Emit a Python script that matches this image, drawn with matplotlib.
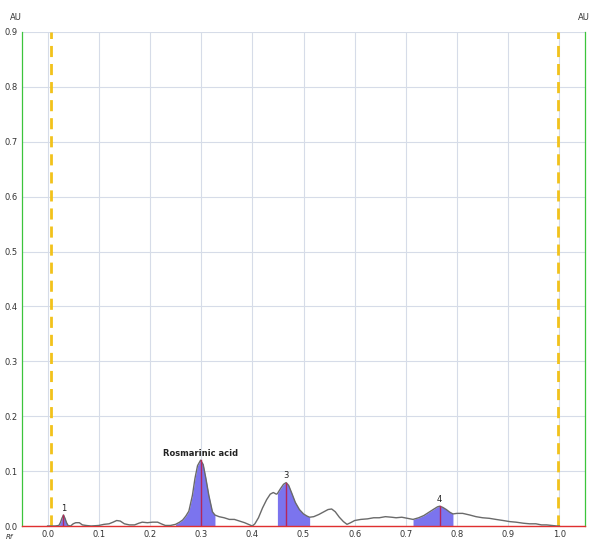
import numpy as np
import matplotlib
matplotlib.use('Agg')
import matplotlib.pyplot as plt

FONT_SIZE = 6

# densitogram track (Rf, AU)
rf = [0.000, 0.015, 0.022, 0.025, 0.028, 0.031, 0.034, 0.037, 0.040, 0.045,
      0.050, 0.055, 0.062, 0.068, 0.075, 0.085, 0.100, 0.110, 0.120, 0.128,
      0.135, 0.142, 0.150, 0.160, 0.170, 0.178, 0.185, 0.195, 0.205, 0.215,
      0.222, 0.230, 0.240, 0.250, 0.258, 0.264, 0.270, 0.276, 0.283, 0.288,
      0.293, 0.299, 0.304, 0.309, 0.315, 0.322, 0.327, 0.335, 0.345, 0.355,
      0.365, 0.375, 0.385, 0.395, 0.400, 0.405, 0.412, 0.420, 0.428, 0.435,
      0.441, 0.447, 0.449, 0.455, 0.461, 0.466, 0.471, 0.477, 0.484, 0.492,
      0.500, 0.507, 0.512, 0.520, 0.530, 0.540, 0.548, 0.555, 0.562, 0.570,
      0.578, 0.585, 0.592, 0.600, 0.612, 0.625, 0.637, 0.648, 0.660, 0.672,
      0.681, 0.692, 0.703, 0.714, 0.725, 0.735, 0.745, 0.755, 0.762, 0.766,
      0.772, 0.779, 0.786, 0.792, 0.800, 0.811, 0.825, 0.837, 0.850, 0.863,
      0.876, 0.890, 0.903, 0.915, 0.930, 0.942, 0.954, 0.965, 0.975, 0.985,
      0.995, 1.000]
au = [0.000, 0.000, 0.001, 0.006, 0.014, 0.020, 0.014, 0.006, 0.001, 0.000,
      0.004, 0.006, 0.006, 0.002, 0.001, 0.000, 0.001, 0.003, 0.004, 0.007,
      0.010, 0.009, 0.004, 0.002, 0.002, 0.005, 0.007, 0.006, 0.007, 0.007,
      0.004, 0.001, 0.001, 0.003, 0.007, 0.011, 0.018, 0.027, 0.056, 0.087,
      0.110, 0.120, 0.112, 0.088, 0.056, 0.026, 0.020, 0.017, 0.015, 0.012,
      0.012, 0.009, 0.006, 0.002, 0.000, 0.004, 0.015, 0.033, 0.048, 0.058,
      0.061, 0.058, 0.059, 0.068, 0.076, 0.079, 0.074, 0.060, 0.043, 0.030,
      0.022, 0.018, 0.016, 0.017, 0.021, 0.026, 0.030, 0.031, 0.026, 0.016,
      0.008, 0.003, 0.006, 0.010, 0.012, 0.013, 0.015, 0.015, 0.017, 0.016,
      0.015, 0.016, 0.014, 0.012, 0.015, 0.019, 0.025, 0.031, 0.035, 0.036,
      0.034, 0.030, 0.025, 0.022, 0.023, 0.023, 0.020, 0.017, 0.015, 0.014,
      0.012, 0.010, 0.008, 0.007, 0.005, 0.004, 0.004, 0.002, 0.002, 0.001,
      0.000, 0.000]

# integrated peaks: label, start, end, apex Rf, apex AU
peak_labels = ['1', 'Rosmarinic acid', '3', '4']
peak_start = [0.022, 0.250, 0.449, 0.714]
peak_end = [0.040, 0.327, 0.512, 0.792]
peak_rf = [0.031, 0.299, 0.466, 0.766]
peak_au = [0.020, 0.120, 0.079, 0.036]

front_lines = [0.007, 0.998]

rf = np.array(rf)
au = np.array(au)

fig = plt.figure(figsize=(5.9, 5.41), dpi=100)
ax = fig.add_axes([22 / 590, 15 / 541, 563 / 590, 494 / 541])

ax.set_xlim(-0.05, 1.05)
ax.set_ylim(0, 0.9)
ax.set_xticks(np.arange(0, 1.01, 0.1))
ax.set_yticks(np.arange(0, 0.91, 0.1))
ax.set_xticklabels(['%.1f' % v for v in np.arange(0, 1.01, 0.1)])
ax.set_yticklabels(['%.1f' % v for v in np.arange(0, 0.91, 0.1)])
ax.tick_params(length=0, labelsize=FONT_SIZE, colors='#333333', pad=3)

ax.grid(color='#d6dce8', linewidth=0.8)
ax.set_axisbelow(True)

ax.spines['top'].set_visible(False)
ax.spines['left'].set_color('#3cc43c')
ax.spines['right'].set_color('#3cc43c')
ax.spines['bottom'].set_color('#e03030')
ax.spines['left'].set_linewidth(0.9)
ax.spines['right'].set_linewidth(0.9)
ax.spines['bottom'].set_linewidth(1.0)

# start / front lines
for x in front_lines:
    ax.axvline(x, color='#f2c21b', linewidth=2, linestyle=(0, (4, 2.5)), zorder=3)

# peak areas
for s, e in zip(peak_start, peak_end):
    mask = (rf >= s) & (rf <= e)
    ax.fill_between(rf[mask], 0, au[mask], color='#7b74ee', linewidth=0, zorder=2)

ax.plot(rf, au, color='#6a6a6a', linewidth=1.0, zorder=4)

for lab, x, y in zip(peak_labels, peak_rf, peak_au):
    ax.plot([x, x], [0, y], color='#b5275a', linewidth=1, zorder=5)
    weight = 'bold' if len(lab) > 1 else 'normal'
    ax.text(x, y + 0.004, lab, ha='center', va='bottom', fontsize=FONT_SIZE,
            fontweight=weight, color='#222222')

fig.text(10 / 590, 1 - 17 / 541, 'AU', fontsize=FONT_SIZE, ha='left', va='center', color='#333333')
fig.text(578 / 590, 1 - 17 / 541, 'AU', fontsize=FONT_SIZE, ha='left', va='center', color='#333333')
fig.text(6 / 590, 1 - 537 / 541, 'Rf', fontsize=FONT_SIZE - 1, ha='left', va='center',
         color='#333333', style='italic')

fig.savefig('out.png', dpi=100)
